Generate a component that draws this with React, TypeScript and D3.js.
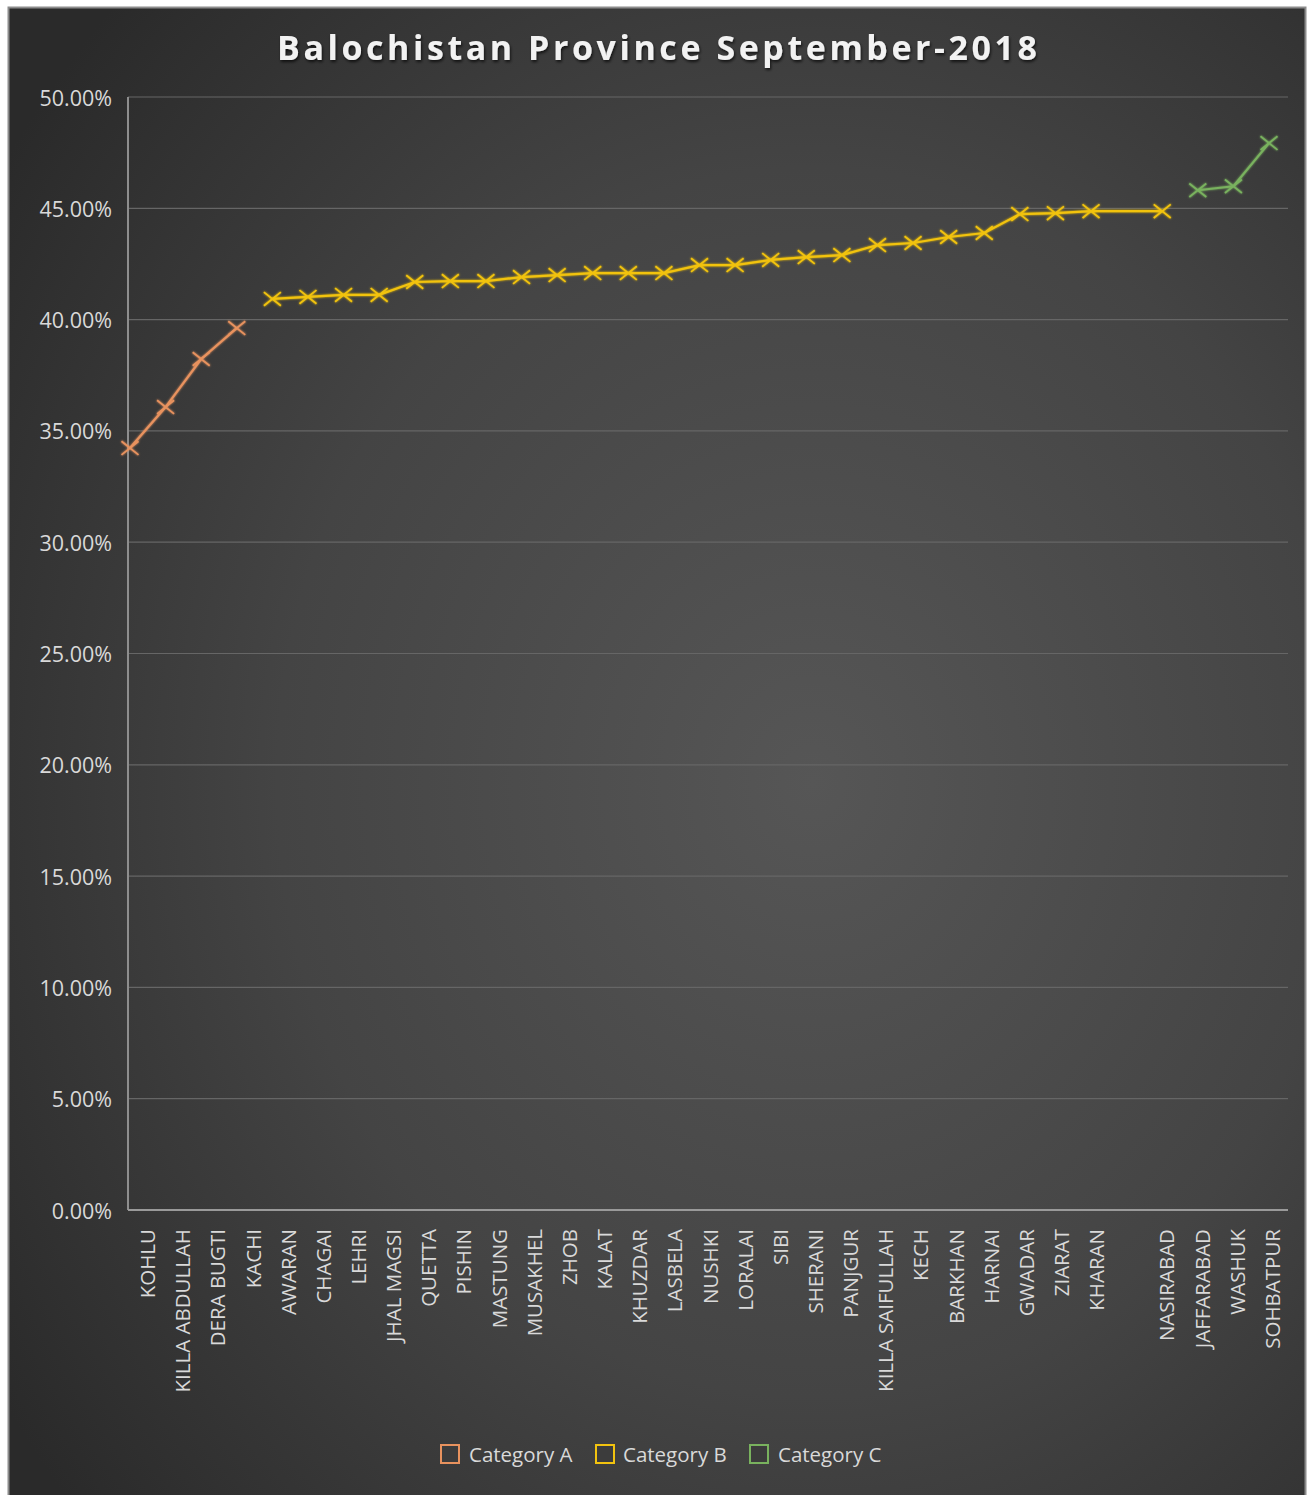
import React from "react";
import * as d3 from "d3";

const titleText = "Balochistan Province September-2018";

const districts = [
  "KOHLU", "KILLA ABDULLAH", "DERA BUGTI", "KACHI", "AWARAN", "CHAGAI", "LEHRI",
  "JHAL MAGSI", "QUETTA", "PISHIN", "MASTUNG", "MUSAKHEL", "ZHOB", "KALAT",
  "KHUZDAR", "LASBELA", "NUSHKI", "LORALAI", "SIBI", "SHERANI", "PANJGUR",
  "KILLA SAIFULLAH", "KECH", "BARKHAN", "HARNAI", "GWADAR", "ZIARAT", "KHARAN",
  " ", "NASIRABAD", "JAFFARABAD", "WASHUK", "SOHBATPUR",
];

const rates: (number | null)[] = [
  34.23, 36.07, 38.23, 39.62, 40.93, 41.02, 41.11,
  41.11, 41.69, 41.73, 41.73, 41.91, 42.0, 42.09,
  42.09, 42.09, 42.45, 42.45, 42.68, 42.81, 42.9,
  43.35, 43.44, 43.71, 43.89, 44.74, 44.78, 44.87,
  null, 44.87, 45.81, 45.99, 47.93,
];

const groups = [
  "A", "A", "A", "A", "B", "B", "B",
  "B", "B", "B", "B", "B", "B", "B",
  "B", "B", "B", "B", "B", "B", "B",
  "B", "B", "B", "B", "B", "B", "B",
  "", "B", "C", "C", "C",
];

const seriesKeys = ["A", "B", "C"];
const seriesNames = ["Category A", "Category B", "Category C"];
const seriesColors = ["#e8925e", "#f2c30f", "#79b25e"];

const yTicks = [0, 5, 10, 15, 20, 25, 30, 35, 40, 45, 50];

const W = 1309;
const H = 1495;
const plotL = 128;
const plotR = 1288;
const plotT = 97;
const plotB = 1210;
const font = "'Open Sans', 'Noto Sans', sans-serif";
const textColor = "#d9d9d9";

export default function App() {
  const y = d3.scaleLinear().domain([0, 50]).range([plotB, plotT]);
  const xBand = d3.scaleBand<string>().domain(districts).range([plotL, plotR]);
  const xPt = d3.scalePoint<string>().domain(districts).range([plotL + 2, plotR - 19]);
  const fmt = (v: number) => v.toFixed(2) + "%";

  const line = d3
    .line<{ name: string; v: number }>()
    .x((d) => xPt(d.name) as number)
    .y((d) => y(d.v));

  const series = seriesKeys.map((k, si) => ({
    key: k,
    name: seriesNames[si],
    color: seriesColors[si],
    pts: districts
      .map((name, i) => ({ name, v: rates[i] as number, g: groups[i], ok: rates[i] !== null }))
      .filter((d) => d.g === k && d.ok),
  }));

  const legendItems = [
    { x: 440, textX: 469 },
    { x: 595, textX: 623 },
    { x: 749, textX: 778 },
  ];

  return (
    <svg
      width={W}
      height={H}
      style={{ position: "absolute", left: 0, top: 0, background: "#ffffff" }}
    >
      <defs>
        <radialGradient id="bg" cx="62%" cy="52%" r="75%">
          <stop offset="0%" stopColor="#565656" />
          <stop offset="55%" stopColor="#444444" />
          <stop offset="100%" stopColor="#2a2a2a" />
        </radialGradient>
        <filter id="glow" x="-20%" y="-20%" width="140%" height="140%">
          <feGaussianBlur stdDeviation="1.3" result="b" />
          <feMerge>
            <feMergeNode in="b" />
            <feMergeNode in="SourceGraphic" />
          </feMerge>
        </filter>
        <filter id="tshadow" x="-5%" y="-30%" width="110%" height="160%">
          <feGaussianBlur in="SourceAlpha" stdDeviation="1.5" />
          <feOffset dx="1" dy="2" result="o" />
          <feComponentTransfer>
            <feFuncA type="linear" slope="0.7" />
          </feComponentTransfer>
          <feMerge>
            <feMergeNode />
            <feMergeNode in="SourceGraphic" />
          </feMerge>
        </filter>
      </defs>

      <rect x={8.5} y={7.5} width={1297} height={1490} fill="url(#bg)" stroke="#8c8c8c" strokeWidth={2} />

      <text
        x={657}
        y={60}
        textAnchor="middle"
        fontFamily={font}
        fontWeight={700}
        fontSize={34}
        fill="#f2f2f2"
        textLength={760}
        lengthAdjust="spacing"
        filter="url(#tshadow)"
      >
        {titleText}
      </text>

      {yTicks.map((t) => (
        <g key={t}>
          {t > 0 && (
            <line x1={plotL} x2={plotR} y1={y(t)} y2={y(t)} stroke="#666666" strokeWidth={1.2} />
          )}
          <text
            x={112}
            y={y(t)}
            textAnchor="end"
            dominantBaseline="central"
            fontFamily={font}
            fontSize={21.5}
            fill={textColor}
          >
            {fmt(t)}
          </text>
        </g>
      ))}

      <line x1={plotL} x2={plotL} y1={plotT} y2={plotB} stroke="#8e8e8e" strokeWidth={2} />
      <line x1={plotL} x2={plotR} y1={plotB} y2={plotB} stroke="#9a9a9a" strokeWidth={2} />

      {districts.map((d) => (
        <text
          key={d}
          transform={`translate(${(xBand(d) as number) + xBand.bandwidth() / 2 + 1.5},${1229}) rotate(-90)`}
          textAnchor="end"
          dominantBaseline="central"
          fontFamily={font}
          fontSize={20.5}
          fill={textColor}
        >
          {d.trim()}
        </text>
      ))}

      {series.map((s) => (
        <g key={s.key} filter="url(#glow)">
          <path d={line(s.pts) || ""} fill="none" stroke={s.color} strokeWidth={2.2} />
          {s.pts.map((p) => {
            const cx = xPt(p.name) as number;
            const cy = y(p.v);
            const r = 8.5;
            return (
              <path
                key={p.name}
                d={`M${cx - r},${cy - r * 0.8}L${cx + r},${cy + r * 0.8}M${cx - r},${cy + r * 0.8}L${cx + r},${cy - r * 0.8}`}
                stroke={s.color}
                strokeWidth={1.8}
                fill="none"
              />
            );
          })}
        </g>
      ))}

      {series.map((s, i) => (
        <g key={s.key}>
          <rect
            x={legendItems[i].x + 1}
            y={1445}
            width={18}
            height={18}
            fill="#3c3c3c"
            stroke={s.color}
            strokeWidth={2}
          />
          <text
            x={legendItems[i].textX}
            y={1454}
            dominantBaseline="central"
            fontFamily={font}
            fontSize={20.5}
            fill={textColor}
          >
            {s.name}
          </text>
        </g>
      ))}
    </svg>
  );
}
